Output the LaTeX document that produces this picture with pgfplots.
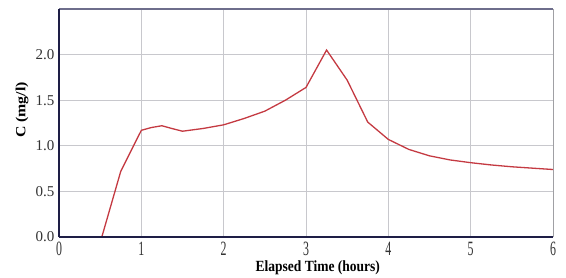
\documentclass[border=0pt]{standalone}
\usepackage{pgfplots}
\pgfplotsset{compat=1.18}
\usepackage{fontspec}
\setmainfont{Liberation Serif}
\definecolor{curve}{RGB}{196,58,66}
\definecolor{gridc}{RGB}{200,200,205}
\definecolor{frametop}{RGB}{110,110,140}
\definecolor{axisnavy}{RGB}{30,30,70}
\begin{document}
\begin{tikzpicture}
\begin{axis}[
  scale only axis,
  width=494pt, height=228pt,
  xmin=0, xmax=6, ymin=0, ymax=2.5,
  xtick={0,1,2,3,4,5,6},
  ytick={0,0.5,1,1.5,2},
  yticklabels={0.0,0.5,1.0,1.5,2.0},
  tick style={draw=none},
  grid=major,
  grid style={gridc, line width=0.8pt},
  axis line style={draw=none},
  yticklabel style={font=\fontsize{15}{17}\selectfont, text=black!80, xshift=-1pt},
  xticklabel style={font=\fontsize{14}{16}\selectfont, text=black!80, anchor=center, yshift=-11.5pt, inner sep=0pt},
  xticklabel={\scalebox{0.85}[1.45]{\pgfmathprintnumber[assume math mode=true,fixed,precision=0]{\tick}}},
  xlabel={\scalebox{1}[1.15]{\textbf{Elapsed Time (hours)}}},
  ylabel={\scalebox{1.13}[1]{\textbf{C (mg/l)}}},
  xlabel style={font=\fontsize{13.5}{15}\selectfont, at={(axis description cs:0.524,-0.133)}, anchor=center, inner sep=0pt},
  ylabel style={font=\fontsize{14}{16}\selectfont, at={(axis description cs:-0.075,0.557)}, anchor=center},
  clip=false,
]
\draw[gridc!80!black, line width=0.8pt] (axis cs:6,0) -- (axis cs:6,2.5);
\draw[frametop, line width=1.2pt] (axis cs:0,2.5) -- (axis cs:6,2.5);
\draw[axisnavy, line width=1.2pt] (axis cs:0,0) -- (axis cs:0,2.5);
\addplot[curve, line width=1.3pt, mark=none] coordinates {
(0.52,0) (0.75,0.72) (1.0,1.17) (1.12,1.20) (1.25,1.22) (1.37,1.19) (1.5,1.16) (1.75,1.19) (2.0,1.23)
(2.25,1.30) (2.5,1.38) (2.75,1.50) (3.0,1.64) (3.25,2.05) (3.5,1.72) (3.75,1.26)
(4.0,1.07) (4.25,0.96) (4.5,0.89) (4.75,0.845) (5.0,0.815) (5.25,0.79) (5.5,0.77) (5.75,0.755) (6.0,0.74)
};
\draw[axisnavy, line width=2pt] (axis cs:0,0) -- (axis cs:6,0);
\end{axis}
\pgfresetboundingbox
\path[use as bounding box] (-59pt,-40pt) rectangle (507pt,237pt);
\end{tikzpicture}
\end{document}
